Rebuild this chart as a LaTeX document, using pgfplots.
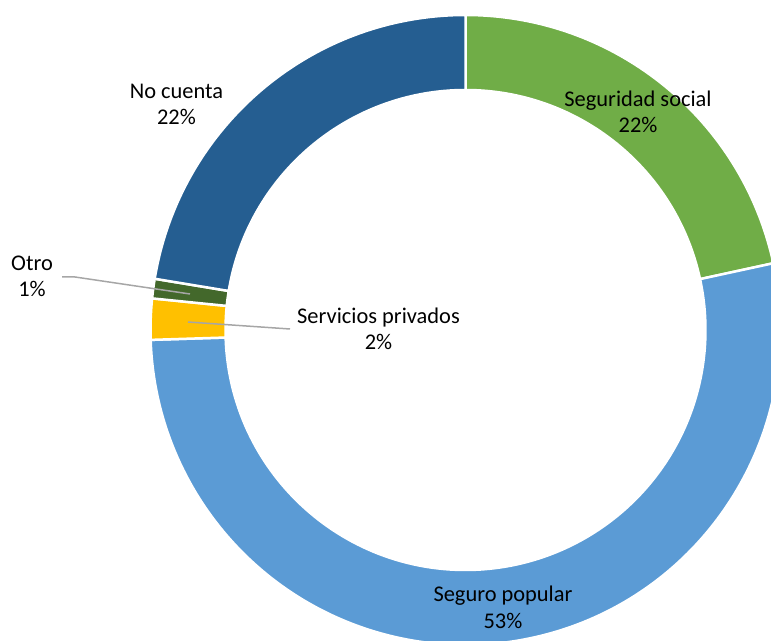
\documentclass[border=0pt]{standalone}
\usepackage{pgfplots}
\usepackage{pgfplotstable}
\pgfplotsset{compat=1.18}
\usepackage{fontspec}
\setmainfont{Carlito}
\definecolor{cSegSoc}{HTML}{70AD47}
\definecolor{cSegPop}{HTML}{5B9BD5}
\definecolor{cPriv}{HTML}{FFC000}
\definecolor{cOtro}{HTML}{43682B}
\definecolor{cNo}{HTML}{255E91}
\definecolor{cLead}{HTML}{A6A6A6}

\pgfplotstableread[col sep=comma]{
name,value
Seguridad social,21.6
Seguro popular,52.9
Servicios privados,2.1
Otro,1.0
No cuenta,22.4
}\donutdata

% donut segment: colour, start angle, end angle (clockwise)
\newcommand\donutseg[3]{%
  \path[fill=#1, draw=white, line width=2.5bp, line join=miter]
    (axis cs:465.5,311) ++(#2:315bp)
    arc[start angle=#2, end angle=#3, radius=315bp]
    -- ++({#3+180}:75bp)
    arc[start angle=#3, end angle=#2, radius=240bp] -- cycle;}
% two-line label: x, y (pixel, from top) of first baseline, text, value
\newcommand\lbl[4]{%
  \node[anchor=base, inner sep=0pt, font=\fontsize{22.5}{27}\selectfont] at (axis cs:#1,641-#2) {#3};
  \node[anchor=base, inner sep=0pt, font=\fontsize{22.5}{27}\selectfont] at (axis cs:#1,641-#2-26) {\pgfmathprintnumber[fixed,precision=0,assume math mode=true]{#4}\%};}

\begin{document}
\begin{tikzpicture}
\useasboundingbox (0,0) rectangle (771bp,641bp);
\pgfplotstablegetelem{0}{value}\of\donutdata \let\vA\pgfplotsretval
\pgfplotstablegetelem{1}{value}\of\donutdata \let\vB\pgfplotsretval
\pgfplotstablegetelem{2}{value}\of\donutdata \let\vC\pgfplotsretval
\pgfplotstablegetelem{3}{value}\of\donutdata \let\vD\pgfplotsretval
\pgfplotstablegetelem{4}{value}\of\donutdata \let\vE\pgfplotsretval
\pgfmathsetmacro\aA{90}
\pgfmathsetmacro\aB{\aA-3.6*\vA}
\pgfmathsetmacro\aC{\aB-3.6*\vB}
\pgfmathsetmacro\aD{\aC-3.6*\vC}
\pgfmathsetmacro\aE{\aD-3.6*\vD}
\pgfmathsetmacro\aF{\aE-3.6*\vE}
\begin{axis}[
  width=771bp, height=641bp, scale only axis,
  xmin=0, xmax=771, ymin=0, ymax=641,
  hide axis, clip=true,
]
\addplot[draw=none] coordinates {(0,0) (771,641)};
\donutseg{cSegSoc}{\aA}{\aB}
\donutseg{cSegPop}{\aB}{\aC}
\donutseg{cPriv}{\aC}{\aD}
\donutseg{cOtro}{\aD}{\aE}
\donutseg{cNo}{\aE}{\aF}
\draw[cLead, line width=1.5bp] (axis cs:62,641-277) -- (axis cs:75,641-277) -- (axis cs:190,641-294);
\draw[cLead, line width=1.5bp] (axis cs:188,641-322) -- (axis cs:290,641-329);
\lbl{176.5}{99}{No cuenta}{\vE}
\lbl{638}{107}{Seguridad social}{\vA}
\lbl{32}{271}{Otro}{\vD}
\lbl{378.5}{324}{Servicios privados}{\vC}
\lbl{503}{602}{Seguro popular}{\vB}
\end{axis}
\end{tikzpicture}
\end{document}
